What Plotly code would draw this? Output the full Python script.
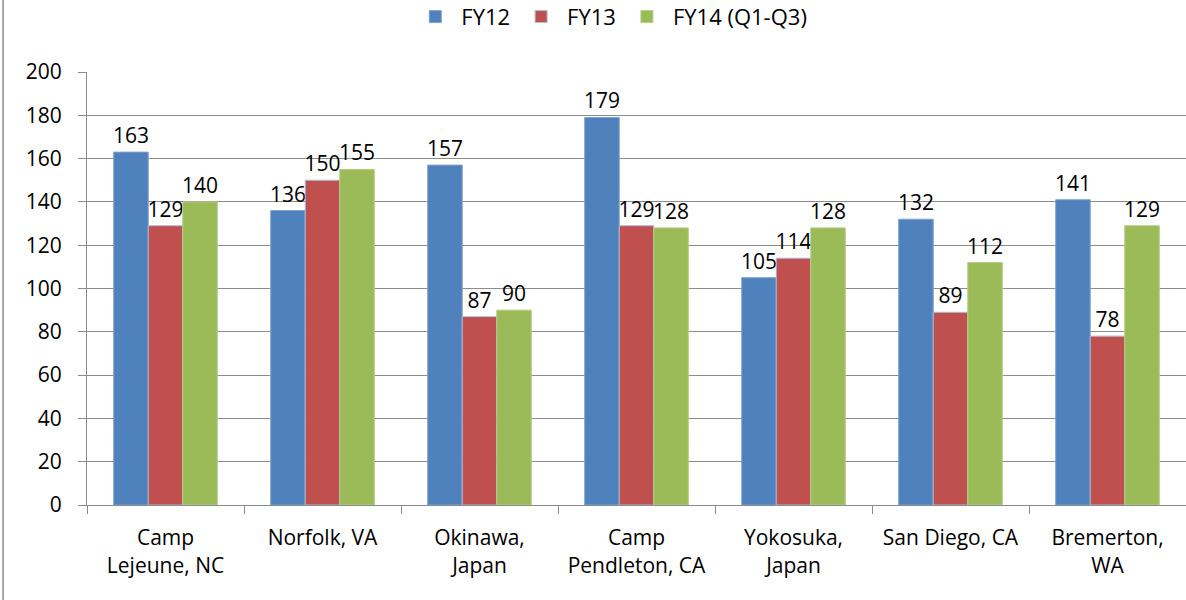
import plotly.graph_objects as go

# data
categories = ["Camp<br>Lejeune, NC", "Norfolk, VA", "Okinawa,<br>Japan",
              "Camp<br>Pendleton, CA", "Yokosuka,<br>Japan", "San Diego, CA",
              "Bremerton,<br>WA"]
fy12 = [163, 136, 157, 179, 105, 132, 141]
fy13 = [129, 150, 87, 129, 114, 89, 78]
fy14 = [140, 155, 90, 128, 128, 112, 129]
y_ticks = [0, 20, 40, 60, 80, 100, 120, 140, 160, 180, 200]

font = dict(family="Open Sans, Noto Sans, sans-serif", size=21, color="#000000")

fig = go.Figure()
series = [
    ("FY12", fy12, "#4F81BD", "#7fa3cf"),
    ("FY13", fy13, "#C0504D", "#a9bdd8"),
    ("FY14 (Q1-Q3)", fy14, "#9BBB59", "#b5cd86"),
]
for name, vals, color, edge in series:
    fig.add_trace(go.Bar(
        x=categories, y=vals, name=name,
        marker=dict(color=color, line=dict(color=edge, width=1)),
        text=[str(v) for v in vals], textposition="outside",
        textfont=font, textangle=0, constraintext="none",
        cliponaxis=False,
    ))

fig.update_layout(
    width=1186, height=600,
    margin=dict(l=87, r=0, t=72, b=95, autoexpand=False),
    paper_bgcolor="white", plot_bgcolor="white",
    font=font,
    barmode="group", bargap=0.34, bargroupgap=0,
    showlegend=True,
    legend=dict(orientation="h", xref="container", yref="container",
                x=0.515, xanchor="center", y=0.972, yanchor="middle",
                font=dict(family=font["family"], size=22, color="#000000"),
                itemwidth=42, traceorder="normal"),
)
fig.update_yaxes(range=[0, 200], tickvals=y_ticks, showgrid=True,
                 gridcolor="#8c8c8c", gridwidth=1, showline=True,
                 linecolor="#8c8c8c", linewidth=1, ticks="outside",
                 ticklen=8, tickcolor="#8c8c8c", zeroline=False,
                 tickfont=font, automargin=False, ticklabelstandoff=12)
fig.update_xaxes(showline=True, linecolor="#8c8c8c", linewidth=1,
                 ticks="outside", tickson="boundaries", ticklen=8,
                 tickcolor="#8c8c8c", tickfont=font, showgrid=False,
                 automargin=False, ticklabelstandoff=14)

# outer chart border on the left
fig.add_shape(type="line", xref="paper", yref="paper",
              x0=-0.0764, x1=-0.0764, y0=-0.22, y1=1.17,
              line=dict(color="#8c8c8c", width=1.5))

# page body has a default margin; remove it so the figure sits at 0,0
fig.write_html("out.html", config={"displayModeBar": False},
               post_script="document.body.style.margin='0px';")
